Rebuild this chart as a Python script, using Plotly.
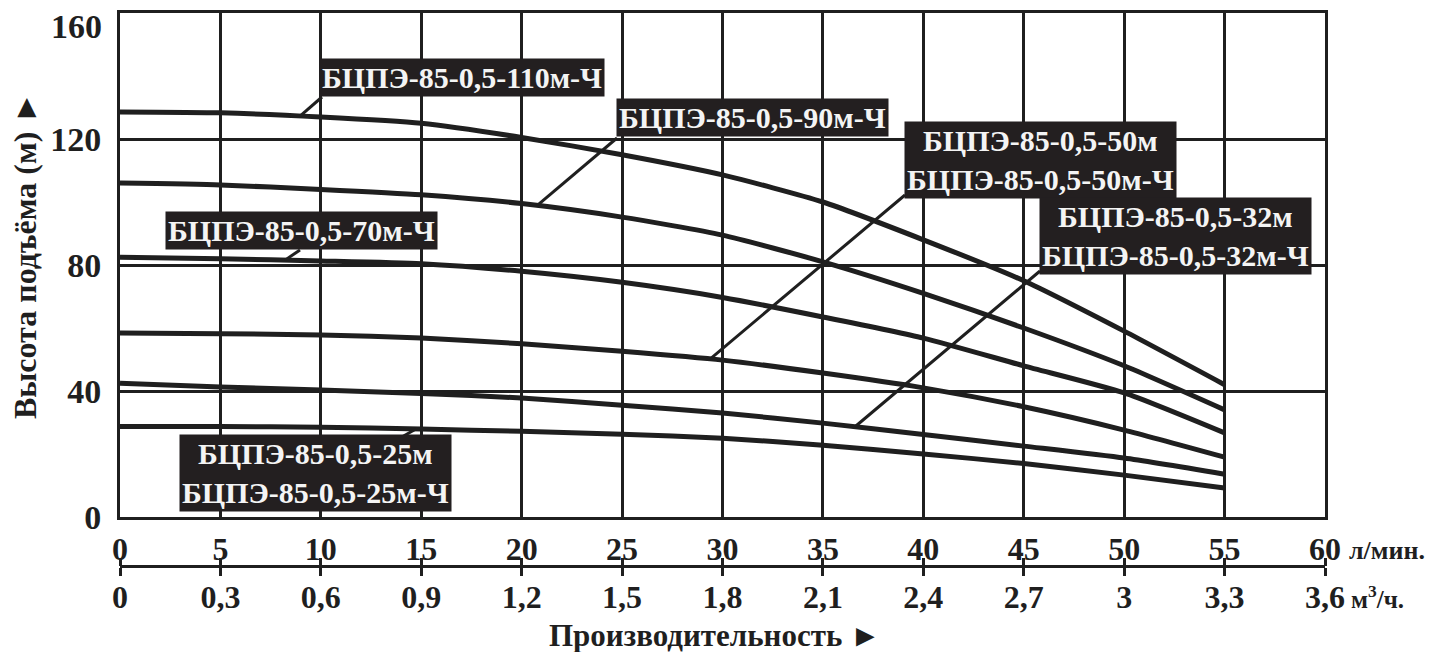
import numpy as np
import plotly.graph_objects as go

# Pump head curves: flow (l/min) vs head (m)
flow_lpm = [0, 5, 10, 15, 20, 25, 30, 35, 40, 45, 50, 55]
head_110 = [128.6, 128.3, 127.0, 125.0, 120.5, 115.0, 108.6, 100.0, 88.0, 75.0, 59.0, 42.0]
head_90 = [106.0, 105.4, 104.0, 102.3, 99.5, 95.2, 89.5, 81.0, 71.0, 60.0, 48.0, 34.0]
head_70 = [82.5, 82.0, 81.3, 80.4, 78.0, 74.5, 69.7, 63.5, 56.8, 48.0, 39.4, 26.7]
head_50 = [58.4, 58.2, 57.8, 56.8, 55.0, 52.6, 49.8, 45.7, 41.0, 35.0, 27.6, 19.0]
head_32 = [42.5, 41.3, 40.3, 39.2, 37.8, 35.5, 33.0, 29.8, 26.2, 22.5, 18.7, 13.6]
head_25 = [28.7, 28.7, 28.5, 27.9, 27.2, 26.3, 25.0, 22.8, 20.0, 17.0, 13.3, 9.2]

series_names = [
    "БЦПЭ-85-0,5-110м-Ч",
    "БЦПЭ-85-0,5-90м-Ч",
    "БЦПЭ-85-0,5-70м-Ч",
    "БЦПЭ-85-0,5-50м<br>БЦПЭ-85-0,5-50м-Ч",
    "БЦПЭ-85-0,5-32м<br>БЦПЭ-85-0,5-32м-Ч",
    "БЦПЭ-85-0,5-25м<br>БЦПЭ-85-0,5-25м-Ч",
]
series_heads = [head_110, head_90, head_70, head_50, head_32, head_25]

lpm_ticks = list(range(0, 61, 5))
lpm_labels = [str(v) for v in lpm_ticks]
m3h_ticks = [0, 0.3, 0.6, 0.9, 1.2, 1.5, 1.8, 2.1, 2.4, 2.7, 3.0, 3.3, 3.6]
m3h_labels = ["0", "0,3", "0,6", "0,9", "1,2", "1,5", "1,8", "2,1", "2,4", "2,7", "3", "3,3", "3,6"]
head_ticks = [0, 40, 80, 120, 160]
head_labels = [str(v) for v in head_ticks]

# Canvas geometry (pixels)
W, H = 1430, 652
L, R, T, B = 120, 1325, 13, 517
SEC_AXIS_Y = 566


def px_to_x(px):
    return (px - L) / (R - L) * 60.0


def py_to_y(py):
    return (B - py) / (B - T) * 160.0


def py_to_paper(py):
    return (H - py) / (H - T)


def px_to_paper(px):
    return (px - L) / (R - L)


INK = "#1f1f1f"
FONT = "Liberation Serif"

fig = go.Figure()

for heads in series_heads:
    fig.add_trace(go.Scatter(
        x=flow_lpm, y=heads, mode="lines",
        line=dict(color=INK, width=5, shape="spline", smoothing=0.6),
        showlegend=False, hoverinfo="skip",
    ))

# dummy traces to attach the secondary flow axis (m3/h)
for ax in ("x2", "x3"):
    fig.add_trace(go.Scatter(x=[0, 3.6], y=[0, 0], xaxis=ax, mode="none",
                             showlegend=False, hoverinfo="skip"))

# label boxes: centre (px), leader anchor on curve (px x), leader end on box (px)
box_centers = [(462, 77), (752, 117), (301, 230), (1040, 160), (1175, 236), (315, 473)]
leader_curve_px = [300, 537, 285, 710, 855, 416]
leader_box_px = [(322, 97), (617, 138), (300, 250), (905, 195), (1040, 271), (400, 438)]

annotations = []
shapes = []
for name, heads, (cx, cy), lx, (bx, by) in zip(series_names, series_heads, box_centers,
                                               leader_curve_px, leader_box_px):
    xc = px_to_x(lx)
    yc = float(np.interp(xc, flow_lpm, heads))
    shapes.append(dict(type="line", xref="x", yref="y", x0=xc, y0=yc,
                       x1=px_to_x(bx), y1=py_to_y(by),
                       line=dict(color=INK, width=3), layer="above"))
    annotations.append(dict(
        x=px_to_x(cx), y=py_to_y(cy), xref="x", yref="y",
        text=name, showarrow=False, xanchor="center", yanchor="middle",
        bgcolor="#231f20", borderpad=2, align="center",
        font=dict(family=FONT, size=30, color="#f4f4f4", weight="bold"),
    ))

tick_font = dict(family=FONT, size=32, color=INK, weight="bold")
ytick_font = dict(family=FONT, size=34, color=INK, weight="bold")

# the top head label sits just inside the canvas, below the frame corner
annotations.append(dict(
    x=px_to_paper(104), y=py_to_paper(27), xref="paper", yref="paper",
    text=head_labels[-1], showarrow=False, xanchor="right", yanchor="middle",
    font=ytick_font,
))

# unit labels and axis titles
annotations += [
    dict(x=px_to_paper(1347), y=py_to_paper(550), xref="paper", yref="paper",
         text="л/мин.", showarrow=False, xanchor="left", yanchor="middle",
         font=dict(family=FONT, size=26, color=INK, weight="bold")),
    dict(x=px_to_paper(1349), y=py_to_paper(597), xref="paper", yref="paper",
         text="м<sup>3</sup>/ч.", showarrow=False, xanchor="left", yanchor="middle",
         font=dict(family=FONT, size=25, color=INK, weight="bold")),
    dict(x=px_to_paper(715), y=py_to_paper(635), xref="paper", yref="paper",
         text="Производительность ►", showarrow=False, xanchor="center", yanchor="middle",
         font=dict(family=FONT, size=31, color=INK, weight="bold")),
    dict(x=px_to_paper(25), y=py_to_paper(256), xref="paper", yref="paper",
         text="Высота подъёма (м) ►", showarrow=False, textangle=-90,
         xanchor="center", yanchor="middle",
         font=dict(family=FONT, size=32, color=INK, weight="bold")),
]

fig.update_layout(
    width=W, height=H,
    margin=dict(l=L, r=W - R, t=T, b=0, autoexpand=False),
    paper_bgcolor="white", plot_bgcolor="white",
    showlegend=False,
    annotations=annotations,
    shapes=shapes,
    xaxis=dict(
        range=[0, 60], tickvals=lpm_ticks, ticktext=lpm_labels,
        showgrid=True, gridcolor=INK, gridwidth=3,
        showline=True, linecolor=INK, linewidth=3, mirror=True,
        zeroline=False, ticks="", tickfont=tick_font, ticklabelstandoff=2,
        anchor="y", automargin=False, ticklabeloverflow="allow",
    ),
    xaxis2=dict(
        range=[0, 3.6], tickvals=m3h_ticks, ticktext=m3h_labels,
        overlaying="x", anchor="free", position=py_to_paper(SEC_AXIS_Y),
        showgrid=False, zeroline=False,
        showline=True, linecolor=INK, linewidth=3,
        ticks="outside", ticklen=8, tickwidth=3, tickcolor=INK,
        tickfont=tick_font, ticklabelstandoff=-6, automargin=False,
        ticklabeloverflow="allow",
    ),
    xaxis3=dict(
        range=[0, 3.6], tickvals=m3h_ticks, side="top",
        overlaying="x", anchor="free", position=py_to_paper(SEC_AXIS_Y),
        showgrid=False, zeroline=False, showline=False, showticklabels=False,
        ticks="outside", ticklen=8, tickwidth=3, tickcolor=INK, automargin=False,
    ),
    yaxis=dict(
        range=[0, 160], tickvals=head_ticks,
        ticktext=head_labels[:-1] + [""],
        domain=[py_to_paper(B), 1],
        showgrid=True, gridcolor=INK, gridwidth=3,
        showline=True, linecolor=INK, linewidth=3, mirror=True,
        zeroline=False, ticks="", tickfont=ytick_font,
        ticklabelstandoff=9, automargin=False, ticklabeloverflow="allow",
    ),
)

fig.write_html("out.html")
